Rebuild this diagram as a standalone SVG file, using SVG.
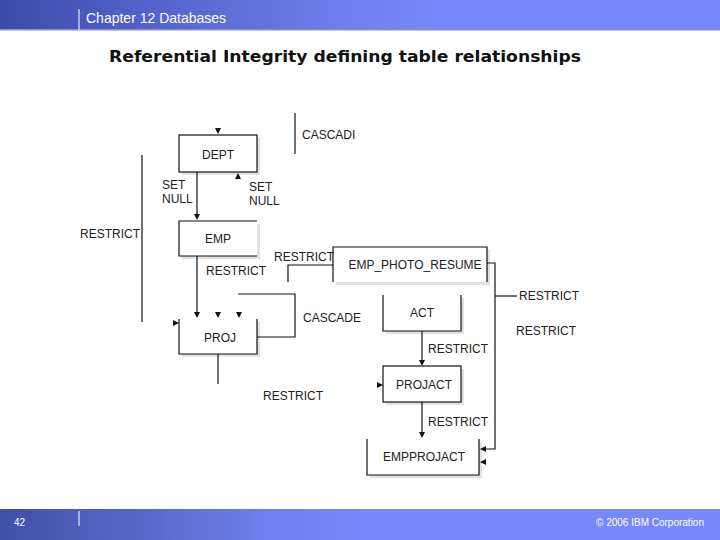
<svg xmlns="http://www.w3.org/2000/svg" width="720" height="540" viewBox="0 0 720 540">
<defs>
<linearGradient id="hdr" x1="0" y1="0" x2="1" y2="0">
<stop offset="0" stop-color="#3c4aa8"/>
<stop offset="0.2" stop-color="#5262c8"/>
<stop offset="0.45" stop-color="#6c7ce8"/>
<stop offset="0.6" stop-color="#7788f8"/>
<stop offset="1" stop-color="#7788f8"/>
</linearGradient>
<linearGradient id="ftr" x1="0" y1="0" x2="1" y2="0">
<stop offset="0" stop-color="#4050a8"/>
<stop offset="0.2" stop-color="#5868c8"/>
<stop offset="0.38" stop-color="#7080ee"/>
<stop offset="0.5" stop-color="#7788f8"/>
<stop offset="1" stop-color="#7788f8"/>
</linearGradient>
<path id="tri" d="M-3,-3 L3,-3 L0,3 Z" fill="#111"/>
</defs>
<style>
.ln{fill:none;stroke:#111;stroke-width:1.2}
.box{fill:#fff;stroke:none}
.sh{fill:#e2e2e2}
.t{font-family:"Liberation Sans",Arial,sans-serif;font-size:12px;fill:#222}
.c{text-anchor:middle}
</style>
<rect width="720" height="540" fill="#fff"/>
<!-- header -->
<rect x="0" y="0" width="720" height="30" fill="url(#hdr)"/>
<rect x="0" y="29" width="720" height="1.5" fill="#8890d0"/>
<line x1="79" y1="9" x2="79" y2="30" stroke="#fff" stroke-width="1"/>
<text x="86" y="23" font-family="Liberation Sans,Arial,sans-serif" font-size="14" fill="#fff">Chapter 12 Databases</text>
<!-- footer -->
<rect x="0" y="509" width="720" height="31" fill="url(#ftr)"/>
<line x1="79" y1="511" x2="79" y2="526" stroke="#fff" stroke-width="1"/>
<text x="14" y="526" font-family="Liberation Sans,Arial,sans-serif" font-size="10" fill="#fff">42</text>
<text x="704" y="526" font-family="Liberation Sans,Arial,sans-serif" font-size="10" fill="#fff" text-anchor="end">© 2006 IBM Corporation</text>
<!-- title -->
<text x="345" y="62" font-family="DejaVu Sans,Verdana,sans-serif" font-size="16" font-weight="bold" fill="#111" text-anchor="middle" textLength="472" lengthAdjust="spacingAndGlyphs">Referential Integrity defining table relationships</text>

<g id="DEPT">
<rect class="sh" x="182" y="138" width="78" height="37"/>
<rect class="box" x="179" y="135" width="78" height="37"/>
<rect class="ln" x="179" y="135" width="78" height="37"/>
<text class="t c" x="218" y="159">DEPT</text>
</g>
<g id="EMP">
<rect class="sh" x="182" y="224" width="78" height="35"/>
<rect class="box" x="179" y="221" width="78" height="35"/>
<path class="ln" d="M257,221 H179 V256 H257"/>
<text class="t c" x="218" y="243">EMP</text>
</g>
<g id="PROJ">
<rect class="sh" x="182" y="322" width="78" height="35"/>
<rect class="box" x="179" y="319" width="78" height="35"/>
<path class="ln" d="M179,319 V354 H257 V319"/>
<text class="t c" x="220" y="342">PROJ</text>
</g>
<g id="EMP_PHOTO_RESUME">
<rect class="sh" x="336" y="250" width="154" height="35"/>
<rect class="box" x="333" y="247" width="154" height="35"/>
<path class="ln" d="M333,282 V247 H487 V282"/>
<text class="t c" x="415" y="269">EMP_PHOTO_RESUME</text>
</g>
<g id="ACT">
<rect class="sh" x="386" y="298" width="78" height="36"/>
<rect class="box" x="383" y="295" width="78" height="36"/>
<path class="ln" d="M383,295 V331 H461 V295"/>
<text class="t c" x="422" y="317">ACT</text>
</g>
<g id="PROJACT">
<rect class="sh" x="386" y="369" width="78" height="36"/>
<rect class="box" x="383" y="366" width="78" height="36"/>
<rect class="ln" x="383" y="366" width="78" height="36"/>
<text class="t c" x="424" y="389">PROJACT</text>
</g>
<g id="EMPPROJACT">
<rect class="sh" x="370" y="442" width="112" height="36"/>
<rect class="box" x="367" y="439" width="112" height="36"/>
<path class="ln" d="M367,439 V475 H479 V439"/>
<text class="t c" x="424" y="461">EMPPROJACT</text>
</g>

<g id="connectors">
<path class="ln" d="M197,172 V216"/>
<path class="ln" d="M197,256 V313"/>
<path class="ln" d="M142,155 V322"/>
<path class="ln" d="M295,113 V154"/>
<path class="ln" d="M257,337 H295 V294 H238"/>
<path class="ln" d="M333,265 H288 V282"/>
<path class="ln" d="M487,263 H495 V449 H485"/>
<path class="ln" d="M495,296 H517"/>
<path class="ln" d="M422,331 V361"/>
<path class="ln" d="M422,402 V433"/>
<path class="ln" d="M218,354 V384"/>
<use href="#tri" x="218" y="131"/>
<use href="#tri" transform="translate(238,176) rotate(180)"/>
<use href="#tri" x="197" y="217"/>
<use href="#tri" x="197" y="315"/>
<use href="#tri" x="218" y="315"/>
<use href="#tri" x="239" y="315"/>
<use href="#tri" transform="translate(176,323) rotate(-90)"/>
<use href="#tri" x="422" y="363"/>
<use href="#tri" transform="translate(380,385) rotate(-90)"/>
<use href="#tri" x="422" y="435"/>
<use href="#tri" transform="translate(483,449) rotate(90)"/>
<use href="#tri" transform="translate(483,462) rotate(90)"/>
<text class="t" x="302" y="139">CASCADI</text>
<text class="t" x="162" y="189">SET</text>
<text class="t" x="162" y="203">NULL</text>
<text class="t" x="249" y="191">SET</text>
<text class="t" x="249" y="205">NULL</text>
<text class="t" x="80" y="238">RESTRICT</text>
<text class="t" x="206" y="275">RESTRICT</text>
<text class="t" x="274" y="261">RESTRICT</text>
<text class="t" x="303" y="322">CASCADE</text>
<text class="t" x="519" y="300">RESTRICT</text>
<text class="t" x="516" y="335">RESTRICT</text>
<text class="t" x="428" y="353">RESTRICT</text>
<text class="t" x="263" y="400">RESTRICT</text>
<text class="t" x="428" y="426">RESTRICT</text>
</g>
</svg>
